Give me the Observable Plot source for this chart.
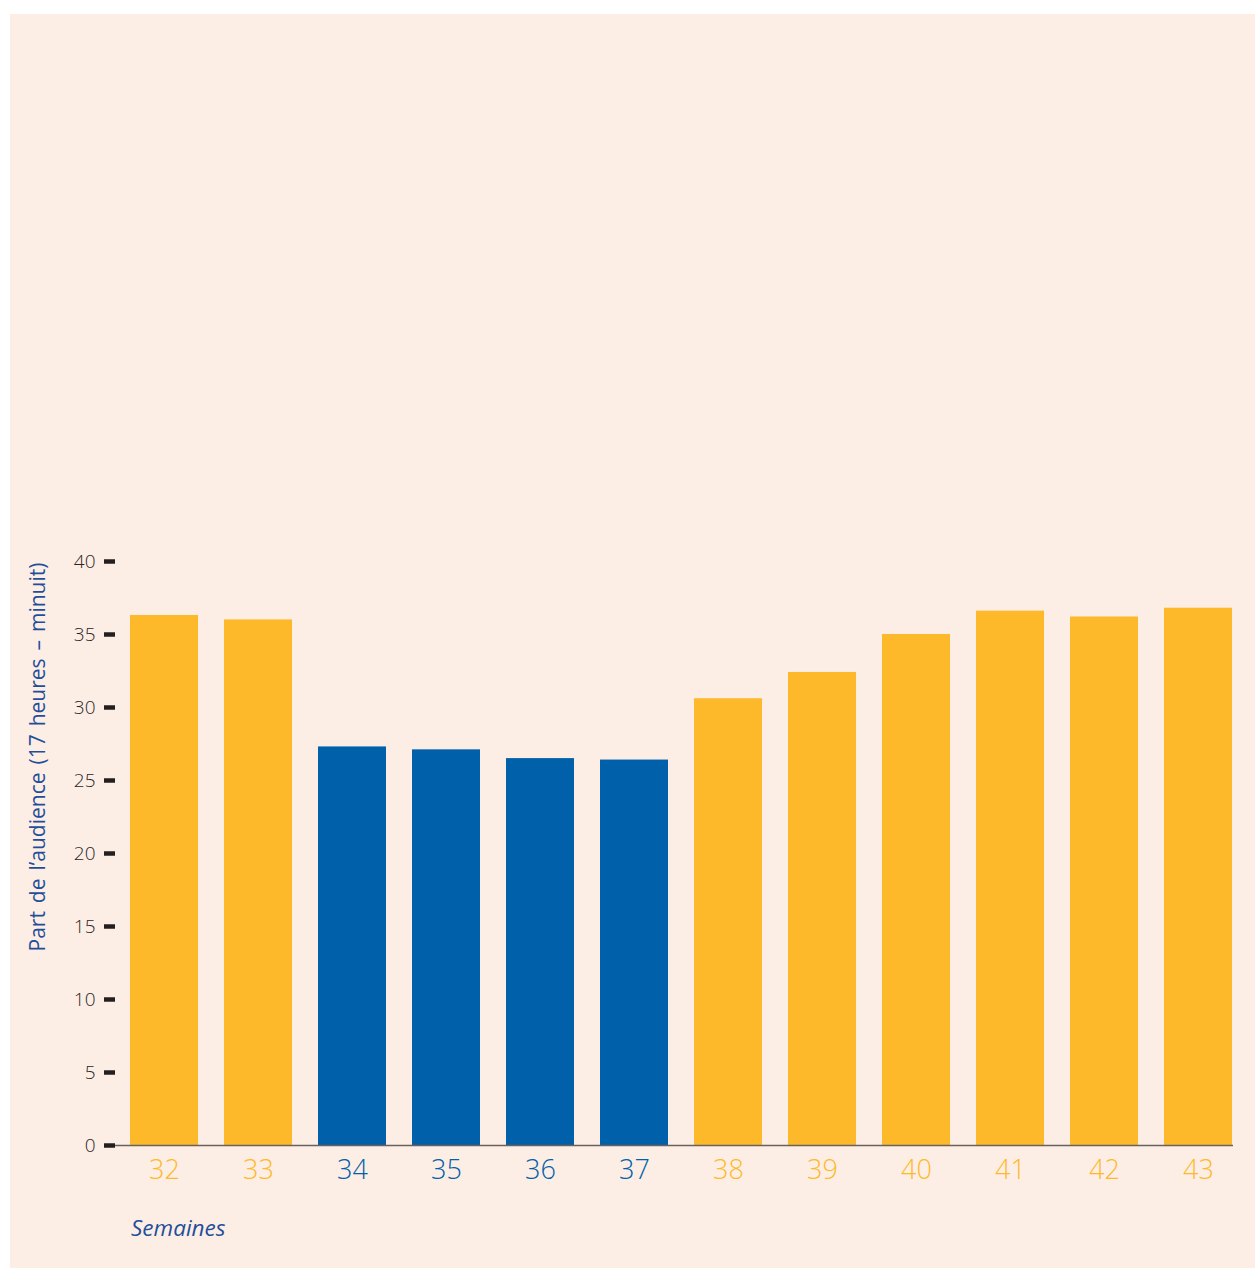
<!DOCTYPE html>
<html>
<head>
<meta charset="utf-8">
<script src="https://cdn.jsdelivr.net/npm/d3@7"></script>
<script src="https://cdn.jsdelivr.net/npm/@observablehq/plot@0.6"></script>
<style>
  html, body { margin: 0; padding: 0; background: #ffffff; }
  #wrap { position: relative; width: 1255px; height: 1268px; overflow: hidden; }
  #panel { position: absolute; left: 10px; top: 14px; width: 1245px; height: 1254px; background: #fdeee5; }
  #chart { position: absolute; left: 0; top: 0; }
  #ytitle { position: absolute; left: 37px; top: 757px; transform: translate(-50%, -50%) rotate(-90deg);
            white-space: nowrap; font-family: "Open Sans", "Noto Sans", sans-serif; font-size: 21px;
            word-spacing: 2.5px; color: #1f4f9a; }
  #xtitle { position: absolute; left: 131px; top: 1212px; font-family: "Open Sans", "Noto Sans", sans-serif;
            font-style: italic; font-size: 22.5px; color: #1f4f9a; }
</style>
</head>
<body>
<div id="wrap">
  <div id="panel"></div>
  <div id="chart"></div>
  <div id="ytitle">Part de l’audience (17 heures – minuit)</div>
  <div id="xtitle">Semaines</div>
</div>
<script>
const weeks = ["32", "33", "34", "35", "36", "37", "38", "39", "40", "41", "42", "43"];
const shares = [36.3, 36.0, 27.3, 27.1, 26.5, 26.4, 30.6, 32.4, 35.0, 36.6, 36.2, 36.8];
const groups = ["autre", "autre", "période", "période", "période", "période", "autre", "autre", "autre", "autre", "autre", "autre"];
const yTicks = [0, 5, 10, 15, 20, 25, 30, 35, 40];

const data = weeks.map((w, i) => ({week: w, share: shares[i], group: groups[i]}));

const chart = Plot.plot({
  width: 1255,
  height: 1268,
  marginLeft: 117,
  marginRight: 10,
  marginTop: 561,
  marginBottom: 123,
  style: {background: "transparent", fontFamily: "'Open Sans', 'Noto Sans', sans-serif"},
  x: {domain: weeks, padding: 0, axis: null},
  y: {domain: [0, 40], axis: null},
  color: {domain: ["autre", "période"], range: ["#fdb92a", "#0060aa"]},
  marks: [
    Plot.barY(data, {x: "week", y: "share", fill: "group", insetLeft: 13, insetRight: 13}),
    Plot.ruleY([0], {stroke: "#6a605c", strokeWidth: 1.6, insetLeft: -2, insetRight: 12}),
    Plot.axisY(yTicks, {ticks: yTicks, tickSize: 11, tickPadding: 9, dx: -2, stroke: "#231f20", strokeWidth: 4.5,
                        fill: "#2a2626", fontSize: 19, fontWeight: 300, label: null, tickFormat: d => String(d)}),
    Plot.text(data, {x: "week", y: 0, text: "week", fill: "group", dy: 25, fontSize: 27, fontWeight: 300})
  ]
});
document.getElementById("chart").appendChild(chart);
</script>
</body>
</html>
